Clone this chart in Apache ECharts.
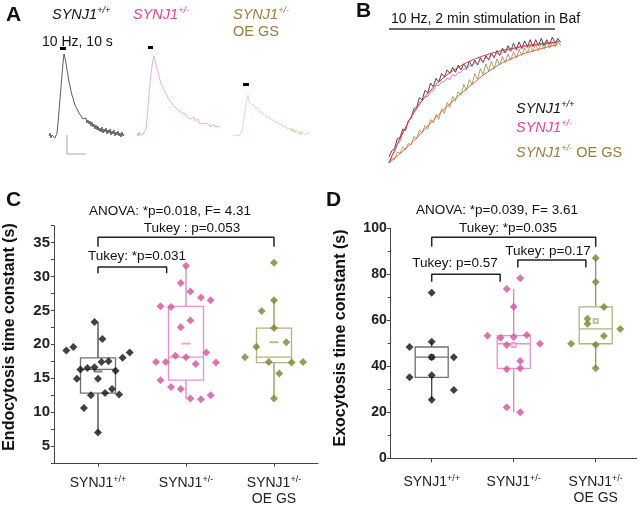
<!DOCTYPE html>
<html><head><meta charset="utf-8">
<script src="https://cdn.jsdelivr.net/npm/echarts@6/dist/echarts.min.js"></script>
<style>html,body{margin:0;padding:0;background:#fff}#c{width:640px;height:506px}</style>
</head><body><div id="c"></div>
<script>
const SANS = "'Liberation Sans', Arial, Helvetica, sans-serif";
const NARROW = "'Liberation Sans Narrow', 'Arial Narrow', 'Liberation Sans', sans-serif";

// ---------- Panel A: single-bouton traces (dF, a.u., one value per frame) ----------
const traceA_WT = [1,4,-1,2,0,3,-1,1,4,14,26,38,50,62,74,83,79,74,67,62,55,51,46,42,39,35,32,34,28,27,24,26,21,23,18,20,16,19,14,17,13,16,11,15,10,13,8,12,7,11,6,9,5,10,4,8,5,9,3,7,4,8,2,6,3,7,1,5,2,6,1,4,0,5,1,3];
const traceA_Het = [2,-1,3,0,2,-1,1,3,0,6,16,28,40,51,61,69,75,79,74,70,66,63,58,55,52,50,47,45,43,41,40,37,36,35,33,32,30,29,28,27,25,28,24,25,23,22,24,20,21,19,20,17,19,18,16,17,15,18,14,15,13,16,12,13,14,11,13,10,12,14,10,11,9,12,8,10,7,11,8,9,6,9,7];
const traceA_OE = [1,3,-1,2,0,4,1,3,2,6,12,19,26,33,38,42,36,38,33,35,31,32,29,30,27,29,25,27,24,25,22,24,21,22,19,21,18,20,17,19,15,17,14,16,13,15,12,14,11,13,10,12,9,11,8,10,7,9,6,9,5,8,4,7,5,6,3,6,2,5,3,6,2,4,1,5,3];
const stimFramesA = [[11,17],[11,16],[10,16]];
const stimLevelA = [[87,90],[86,89],[51,54]];

// ---------- Panel B: 2 min stimulation in Baf (normalised, every 2 s) ----------
const B_DT = 2;
const traceB_WT = [0.05,0.10,0.12,0.20,0.21,0.28,0.27,0.35,0.37,0.45,0.46,0.54,0.52,0.60,0.58,0.66,0.63,0.70,0.67,0.74,0.71,0.77,0.74,0.79,0.75,0.81,0.77,0.82,0.78,0.84,0.80,0.85,0.81,0.87,0.83,0.89,0.85,0.91,0.87,0.93,0.89,0.95,0.91,0.97,0.93,0.99,0.94,1.00,0.95,1.01,0.96,1.02,0.96,1.02,0.97,1.03,0.97,1.02,0.98,1.04,0.99,1.03,1.00];
const traceB_Het = [0.00,0.06,0.09,0.15,0.18,0.25,0.28,0.35,0.38,0.43,0.45,0.50,0.51,0.55,0.55,0.59,0.60,0.64,0.64,0.67,0.67,0.70,0.69,0.73,0.72,0.75,0.75,0.78,0.77,0.81,0.80,0.83,0.82,0.85,0.84,0.87,0.86,0.89,0.88,0.91,0.89,0.92,0.91,0.94,0.92,0.95,0.93,0.96,0.94,0.97,0.95,0.98,0.96,0.98,0.97,0.99,0.97,1.00,0.98,1.00,0.99,1.01,1.00];
const traceB_OE = [0.00,0.04,0.03,0.09,0.08,0.13,0.11,0.16,0.15,0.22,0.20,0.27,0.25,0.31,0.28,0.36,0.33,0.40,0.36,0.45,0.41,0.50,0.46,0.55,0.51,0.59,0.56,0.65,0.60,0.69,0.65,0.74,0.69,0.78,0.73,0.82,0.76,0.84,0.78,0.86,0.81,0.88,0.83,0.90,0.85,0.92,0.87,0.94,0.89,0.95,0.91,0.97,0.92,0.98,0.93,0.99,0.94,1.00,0.95,1.00,0.96,1.01,0.97];
const fitB_fast = [[0,0],[10,0.25],[20,0.45],[30,0.60],[40,0.71],[50,0.79],[60,0.85],[75,0.91],[90,0.95],[105,0.98],[122,1.0]];
const fitB_slow = [[0,0],[15,0.15],[30,0.33],[45,0.50],[60,0.65],[75,0.78],[90,0.87],[105,0.93],[122,0.98]];

// ---------- Panels C & D ----------
const groupNames = ['SYNJ1+/+', 'SYNJ1+/-', 'SYNJ1+/- OE GS'];
const catLabels = ['{n|SYNJ1}{s|+/+}', '{n|SYNJ1}{s|+/-}', '{n|SYNJ1}{s|+/-}\n{n|OE GS}'];

const endoValues = [
  [23.3,20.8,19.1,19.6,18.8,18.0,17.4,17.5,16.3,16.5,16.6,16.1,14.9,14.9,12.5,12.8,13.4,12.6,10.6,7.0],
  [31.6,29.05,27.8,26.9,26.5,25.6,25.5,23.5,22.5,18.3,18.1,18.8,17.4,17.4,17.1,17.3,14.7,13.7,13.4,12.0,11.9,12.5],
  [32.05,26.5,24.9,22.4,20.3,19.65,18.1,17.4,17.3,17.4,15.7,12.0]
];
const endoJitter = [
  [-0.04,0.05,-0.36,-0.28,0.36,0.28,0.04,0.12,-0.20,-0.12,-0.04,0.20,-0.24,0.00,-0.08,0.08,0.16,0.24,-0.16,0.00],
  [0,-0.06,0.05,0.17,0.28,-0.29,-0.17,0.05,-0.06,-0.12,0,0.23,-0.34,-0.23,0.11,0.34,-0.29,-0.17,-0.06,0.05,0.17,0.28],
  [0,0,-0.14,0,0.14,-0.2,-0.33,-0.06,0.2,0.33,0.06,0]
];
const endoBox = [[7.0,12.8,16.3,18.0,23.3],[11.9,14.7,18.1,25.6,31.6],[12.0,17.3,18.1,22.4,26.5]];
const endoMean = [16.0,20.1,20.3];

const exoValues = [
  [72.0,50.7,48.4,43.9,43.9,35.2,36.1,29.7,25.5],
  [78.3,73.6,65.9,53.3,52.4,52.7,53.6,49.3,49.8,42.3,38.7,39.1,22.2,20.0],
  [87.1,76.7,65.8,60.7,58.5,56.2,53.2,49.8,49.4,39.1]
];
const exoJitter = [
  [0,0,-0.27,0,0.27,-0.27,0,0.27,0],
  [0.08,-0.085,0,-0.32,-0.16,0,0.16,-0.085,0.32,0.08,-0.085,0.08,-0.085,0.08],
  [0,0,0.1,-0.1,-0.1,0.3,0.1,-0.3,0,0]
];
const exoBox = [[25.5,35.2,44.0,48.4,50.7],[20.0,39.1,49.8,53.3,73.6],[39.1,49.8,56.3,65.8,87.1]];
const exoMean = [44.0,49.3,59.7];

const endoBrackets = [[0,2,35.8,34.4],[0,0.78,31.4,30.5]];
const exoBrackets = [[0,2,96.1,92.0],[0,0.835,80.0,76.8],[1.05,1.88,86.2,83.0]];

const groupColors = ['#111111', '#d2539d', '#7b8531'];
const boxColors = ['#707070', '#ec90c6', '#b4b27e'];
const whiskerColors = ['#333333', '#dc78b4', '#8c9046'];

// ---------- build ----------
const chart = echarts.init(document.getElementById('c'), null, {renderer: 'canvas'});

const hiddenVal = (gi, min, max) => ({type: 'value', gridIndex: gi, min, max, show: false, axisLine: {onZero: false}});

const grids = [
  {left: 49, top: 37, width: traceA_WT.length - 1, height: 120},
  {left: 137, top: 35, width: traceA_Het.length - 1, height: 120},
  {left: 233, top: 37, width: traceA_OE.length - 1, height: 120},
  {left: 389, top: 30, width: 173, height: 145},
  {left: 54, top: 225.7, width: 264, height: 237.2},
  {left: 390.7, top: 228.3, width: 246, height: 230}
];

const labelRich = {
  n: {fontSize: 14, fontFamily: SANS, color: '#222', lineHeight: 16},
  s: {fontSize: 9, fontFamily: SANS, color: '#222', lineHeight: 9, verticalAlign: 'top'}
};

function catAxis(gi, margin) {
  return {
    type: 'category', gridIndex: gi, data: groupNames, position: 'bottom',
    axisLine: {show: true, onZero: false, lineStyle: {color: '#444', width: 1}},
    axisTick: {show: true, alignWithLabel: true, length: 4, lineStyle: {color: '#444'}},
    axisLabel: {interval: 0, margin, formatter: (v, i) => catLabels[i], rich: labelRich},
    splitLine: {show: false}
  };
}

const xAxes = [
  hiddenVal(0, 0, traceA_WT.length - 1),
  hiddenVal(1, 0, traceA_Het.length - 1),
  hiddenVal(2, 0, traceA_OE.length - 1),
  hiddenVal(3, 0, 125),
  catAxis(4, 12),
  hiddenVal(4, -0.5, 2.5),
  catAxis(5, 16),
  hiddenVal(5, -0.5, 2.5)
];
const yAxes = [
  hiddenVal(0, -20, 100),
  hiddenVal(1, -20, 100),
  hiddenVal(2, -20, 100),
  hiddenVal(3, -0.1, 1.1),
  {type: 'value', gridIndex: 4, min: 2.5, max: 37.5, interval: 2.5, position: 'left',
   axisLine: {show: true, onZero: false, lineStyle: {color: '#444'}},
   axisTick: {show: true, length: 3, lineStyle: {color: '#444'}},
   axisLabel: {margin: 4, fontSize: 15, fontWeight: 'bold', fontFamily: SANS, color: '#222',
     formatter: v => (Math.abs(v % 5) < 1e-9 ? String(v) : '')},
   splitLine: {show: false}},
  {type: 'value', gridIndex: 5, min: 0, max: 100, interval: 20, position: 'left',
   axisLine: {show: true, onZero: false, lineStyle: {color: '#444'}},
   axisTick: {show: true, length: 4, lineStyle: {color: '#444'}},
   minorTick: {show: true, splitNumber: 2, length: 3, lineStyle: {color: '#444'}},
   axisLabel: {margin: 4, fontSize: 14, fontWeight: 'bold', fontFamily: SANS, color: '#222'},
   splitLine: {show: false}}
];

const series = [];

// Panel A traces
[[traceA_WT, '#4d4a48'], [traceA_Het, '#eba7cb'], [traceA_OE, '#dbd3b8']].forEach(([arr, col], k) => {
  series.push({
    type: 'line', xAxisIndex: k, yAxisIndex: k, silent: true, symbol: 'none',
    data: arr.map((v, i) => [i, v]), lineStyle: {color: col, width: 0.9},
    markArea: {silent: true, itemStyle: {color: '#000'},
      data: [[{coord: [stimFramesA[k][0], stimLevelA[k][0]]}, {coord: [stimFramesA[k][1], stimLevelA[k][1]]}]]}
  });
});

// Panel B traces
[[traceB_WT, '#1a1a1a'], [traceB_Het, '#e35aa5'], [traceB_OE, '#958a44']].forEach(([arr, col]) => {
  series.push({type: 'line', xAxisIndex: 3, yAxisIndex: 3, silent: true, symbol: 'none',
    data: arr.map((v, i) => [i * B_DT, v]), lineStyle: {color: col, width: 0.8}});
});
series.push({type: 'line', xAxisIndex: 3, yAxisIndex: 3, silent: true, symbol: 'none', smooth: true,
  data: fitB_fast, lineStyle: {color: '#e0343c', width: 1}});
series.push({type: 'line', xAxisIndex: 3, yAxisIndex: 3, silent: true, symbol: 'none', smooth: true,
  data: fitB_slow, lineStyle: {color: '#e8603a', width: 1}});

// Panels C & D
function boxPanel(catAx, valAx, yAx, values, jitter, box, mean, brackets, boxW, meanSym) {
  box.forEach((b, i) => {
    series.push({type: 'line', xAxisIndex: valAx, yAxisIndex: yAx, silent: true, symbol: 'none', z: 1,
      data: [[i, b[0]], [i, b[4]]], lineStyle: {color: whiskerColors[i], width: 1.2}});
  });
  series.push({type: 'boxplot', xAxisIndex: catAx, yAxisIndex: yAx, silent: true, z: 2,
    boxWidth: [boxW, boxW],
    data: box.map((b, i) => ({value: [b[1], b[1], b[2], b[3], b[3]],
      itemStyle: {color: 'rgba(255,255,255,1)', borderColor: boxColors[i], borderWidth: 1.3}}))});
  values.forEach((vals, i) => {
    series.push({type: 'scatter', xAxisIndex: valAx, yAxisIndex: yAx, silent: true, z: 4,
      symbol: 'diamond', symbolSize: 8, itemStyle: {color: groupColors[i]},
      data: vals.map((v, k) => [i + jitter[i][k], v])});
  });
  series.push({type: 'scatter', xAxisIndex: valAx, yAxisIndex: yAx, silent: true, z: 3,
    symbol: meanSym[0], symbolSize: meanSym[1],
    data: mean.map((m, i) => ({value: [i, m], itemStyle: {color: boxColors[i], borderColor: boxColors[i]}}))});
  brackets.forEach(([x0, x1, y, leg]) => {
    series.push({type: 'line', xAxisIndex: valAx, yAxisIndex: yAx, silent: true, symbol: 'none', z: 5,
      data: [[x0, leg], [x0, y], [x1, y], [x1, leg]], lineStyle: {color: '#222', width: 1.5}});
  });
}
boxPanel(4, 5, 4, endoValues, endoJitter, endoBox, endoMean, endoBrackets, 35, ['rect', [7, 1.5]]);
boxPanel(6, 7, 5, exoValues, exoJitter, exoBox, exoMean, exoBrackets, 33, ['emptyRect', 4]);

// ---------- texts ----------
const supRich = (color, italic, size) => ({
  n: {fontSize: size, fontFamily: SANS, fontStyle: italic ? 'italic' : 'normal', fill: color, lineHeight: 18},
  s: {fontSize: size * 0.64, fontFamily: SANS, fontStyle: italic ? 'italic' : 'normal', fill: color, lineHeight: 9, verticalAlign: 'top'},
  u: {fontSize: size, fontFamily: SANS, fontStyle: 'normal', fill: color, lineHeight: 18}
});
const T = (x, y, text, opt = {}) => ({type: 'text', x, y, z: 100, silent: true, rotation: opt.rotation || 0,
  style: Object.assign({text, fontFamily: SANS, fontSize: 14, fill: '#111', align: 'left', verticalAlign: 'middle'}, opt.style || {})});

const PINK = '#e0449a', BROWN = '#9c7c3c';
const graphics = [
  T(6, 15, 'A', {style: {fontSize: 21, fontWeight: 'bold'}}),
  T(356, 11, 'B', {style: {fontSize: 21, fontWeight: 'bold'}}),
  T(6, 200, 'C', {style: {fontSize: 21, fontWeight: 'bold'}}),
  T(326, 200, 'D', {style: {fontSize: 21, fontWeight: 'bold'}}),
  T(52, 15, '{n|SYNJ1}{s|+/+}', {style: {rich: supRich('#111', true, 14.5)}}),
  T(133, 15, '{n|SYNJ1}{s|+/-}', {style: {rich: supRich(PINK, true, 14.5)}}),
  T(233, 15, '{n|SYNJ1}{s|+/-}', {style: {rich: supRich(BROWN, true, 14.5)}}),
  T(233, 32, 'OE GS', {style: {fontSize: 14.5, fill: BROWN}}),
  T(42, 42, '10 Hz, 10 s', {style: {fontSize: 14}}),
  {type: 'polyline', z: 100, silent: true, shape: {points: [[67, 135], [67, 154], [86, 154]]}, style: {stroke: '#a8a8a8', lineWidth: 1, fill: null}},
  T(391, 19, '10 Hz, 2 min stimulation in Baf', {style: {fontSize: 14}}),
  {type: 'line', z: 100, silent: true, shape: {x1: 389, y1: 29, x2: 555, y2: 29}, style: {stroke: '#333', lineWidth: 1.5}},
  T(516, 109, '{n|SYNJ1}{s|+/+}', {style: {rich: supRich('#111', true, 14.5)}}),
  T(516, 128, '{n|SYNJ1}{s|+/-}', {style: {rich: supRich(PINK, true, 14.5)}}),
  T(516, 153, '{n|SYNJ1}{s|+/-}{u| OE GS}', {style: {rich: supRich(BROWN, true, 14.5)}}),
  T(170, 211, 'ANOVA: *p=0.018, F= 4.31', {style: {fontSize: 13.5, align: 'center'}}),
  T(192, 228, 'Tukey : p=0.053', {style: {fontSize: 13.5, align: 'center'}}),
  T(137, 256, 'Tukey: *p=0.031', {style: {fontSize: 13.5, align: 'center'}}),
  T(497, 210, 'ANOVA: *p=0.039, F= 3.61', {style: {fontSize: 13.5, align: 'center'}}),
  T(508, 228, 'Tukey: *p=0.035', {style: {fontSize: 13.5, align: 'center'}}),
  T(548, 251, 'Tukey: p=0.17', {style: {fontSize: 13.5, align: 'center'}}),
  T(455, 263, 'Tukey: p=0.57', {style: {fontSize: 13.5, align: 'center'}}),
  T(10, 337, 'Endocytosis time constant (s)', {rotation: Math.PI / 2, style: {fontFamily: NARROW, fontSize: 16, fontWeight: 'bold', align: 'center'}}),
  T(341, 338, 'Exocytosis time constant (s)', {rotation: Math.PI / 2, style: {fontFamily: NARROW, fontSize: 16, fontWeight: 'bold', align: 'center'}})
];

chart.setOption({
  animation: false,
  backgroundColor: '#fff',
  grid: grids,
  xAxis: xAxes,
  yAxis: yAxes,
  series,
  graphic: graphics
});
</script></body></html>
